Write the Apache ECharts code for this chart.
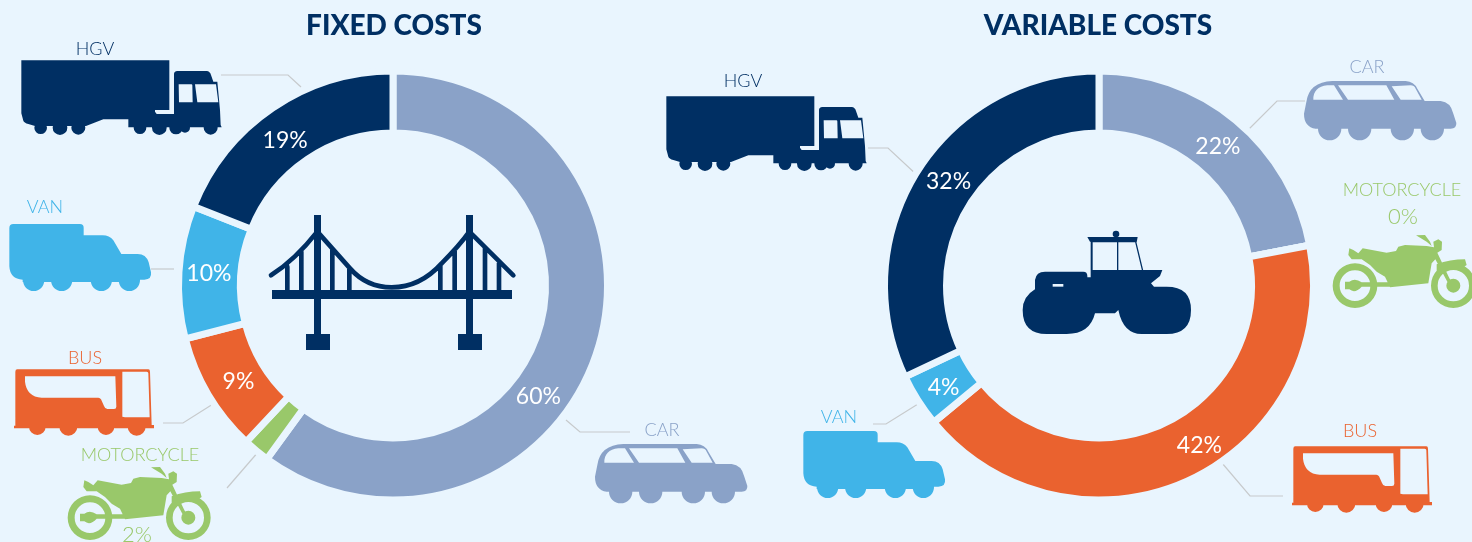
<!DOCTYPE html>
<html>
<head>
<meta charset="utf-8">
<style>html,body{margin:0;padding:0;background:#E9F5FE}#c{width:1472px;height:542px}</style>
<script src="https://cdn.jsdelivr.net/npm/echarts@6/dist/echarts.min.js"></script>
</head>
<body>
<div id="c"></div>
<script>
// ---- data ----
const fixedCategories = ['CAR', 'MOTORCYCLE', 'BUS', 'VAN', 'HGV'];
const fixedValues = [60, 2, 9, 10, 19];
const variableCategories = ['CAR', 'MOTORCYCLE', 'BUS', 'VAN', 'HGV'];
const variableValues = [22, 0, 42, 4, 32];
const chartTitles = ['FIXED COSTS', 'VARIABLE COSTS'];

// ---- styling ----
const BG = '#E9F5FE';
const colors = { CAR: '#8AA2C8', MOTORCYCLE: '#99C86A', BUS: '#EA622F', VAN: '#40B4E8', HGV: '#002F63' };
const LEADER = '#C7CACC';
const FONT = 'Lato, "Open Sans", sans-serif';
const fixedLabelShift = { CAR: [-32, 53], MOTORCYCLE: [0, 0], BUS: [6, 1], VAN: [2, 0], HGV: [-3, 9] };
const variableLabelShift = { CAR: [0, 5], MOTORCYCLE: [0, 0], BUS: [21, -9], VAN: [2, 2], HGV: [7, -4] };

function pie(center, cats, vals, shift) {
  return {
    type: 'pie', center: center, radius: [152.5, 214.5], startAngle: 90, clockwise: true,
    avoidLabelOverlap: false, animation: false, silent: true,
    itemStyle: { borderColor: BG, borderWidth: 7 },
    label: { position: 'inside', formatter: '{c}%', color: '#fff', fontFamily: FONT, fontSize: 23, fontWeight: 400 },
    labelLine: { show: false },
    labelLayout: function (p) { const s = shift[cats[p.dataIndex]]; return { dx: s[0], dy: s[1] }; },
    data: cats.map(function (c, i) {
      return {
        name: c, value: vals[i],
        itemStyle: { color: colors[c] },
        label: { show: c !== 'MOTORCYCLE' }
      };
    })
  };
}

// ---- pictogram helpers (icon art, drawn in 3x zoomed units) ----
let shapeCount = 0;
function shapeType(d) {
  const name = 'iconShape' + (shapeCount++);
  echarts.graphic.registerShape(name, echarts.graphic.extendPath(d, {}));
  return name;
}
function circ(cx, cy, r, rev) {
  const s = rev ? 0 : 1;
  return 'M' + (cx - r) + ' ' + cy + 'A' + r + ' ' + r + ' 0 1 ' + s + ' ' + (cx + r) + ' ' + cy +
         'A' + r + ' ' + r + ' 0 1 ' + s + ' ' + (cx - r) + ' ' + cy + 'Z';
}
function icon(x, y, body, color, holes) {
  const children = [{ type: shapeType(body), style: { fill: color }, silent: true }];
  if (holes) children.push({ type: shapeType(holes), style: { fill: BG }, silent: true });
  return { type: 'group', x: x, y: y, scaleX: 1 / 3, scaleY: 1 / 3, silent: true, children: children };
}
const truckBody = 'M64 91H508V240H465V247H415L385 268H310L258 288H105L85 282Q72 278 70 272L64 250Z' +
  'M385 268L415 245H465L470 252H522V132Q522 124 532 123H620Q630 124 633 135L640 155H652L660 240L662 285L665 292H385Z' +
  circ(122, 293, 19) + circ(180, 293, 22) + circ(235, 293, 21) + circ(420, 293, 19) + circ(478, 293, 22) + circ(528, 293, 20) + circ(555, 293, 15) + circ(632, 293, 21);
const truckHoles = 'M536 163H574Q577 163 577 166L578 217H537ZM585 163H648L655 217H592Z';
const vanBody = 'M52 93H252Q263 93 263 104V127H320Q340 127 352 142L376 183H425Q450 183 458 208L465 238Q468 260 445 260H430V267H80V260Q42 258 40 220V105Q40 93 52 93Z' +
  circ(113, 262, 32) + circ(197, 262, 32) + circ(316, 262, 32) + circ(400, 262, 32);
const busBody = 'M46 95Q46 88 52 88H445Q450 88 450 95L455 255H462V265H42V257H46Z' +
  circ(112, 260, 25) + circ(205, 260, 27) + circ(318, 260, 25) + circ(410, 260, 27);
const busHoles = 'M75 109H346L349 200Q349 207 342 207H322Q315 207 312 198L303 178Q300 173 295 173H125Q80 170 75 125Z' +
  'M367 95H440Q445 95 445 100L449 232H375L367 230Z';
const carBody = 'M15 200L22 165Q30 105 100 102H320Q345 104 355 125L377 162H425Q455 165 463 200L472 228Q473 245 455 245H50Q15 240 15 200Z' +
  circ(92, 245, 35) + circ(182, 245, 35) + circ(310, 245, 35) + circ(400, 245, 35);
const carHoles = 'M43 158Q42 120 85 115H105L132 158ZM117 115H262L286 158H147ZM278 118L335 115Q345 115 350 125L368 158H305Z';
const motoBody = 'M178 235L190 240L205 250L218 235L290 248L318 243L325 230L345 225L410 228L432 232L430 215L445 208L456 215L455 240L442 248L476 320L490 347L480 350L436 268L425 280L415 340L300 352L285 320L260 305L240 285L215 268L185 268L175 255Z' +
  'M378 196L405 195L420 215L425 228L410 215Z' +
  'M440 283Q480 268 525 268L530 285Q515 298 505 290Q470 285 440 310Z' +
  circ(195, 347, 67) + circ(195, 347, 46, true) + circ(490, 347, 67) + circ(490, 347, 47, true) + circ(490, 347, 21) +
  'M165 335H178Q195 322 215 337H300V350H215Q195 372 178 358H165Z';
const bridgeSolid = 'M36 270H756V297H36ZM162 45H183V402H162ZM618 45H639V402H618ZM138 402H210V450H138ZM594 402H666V450H594Z';
const bridgeLines = 'M33 226Q105 180 172 95L270 205Q320 262 395 262Q480 262 545 190Q600 135 628 95L760 226' +
  'M82 200V270M124 155V270M217 150V270M268 205V270M541 195V270M584 150V270M675 145V270M717 190V270';
const rollerBody = 'M105 180Q108 155 135 155H250Q262 155 262 168V172H272V150H487L480 168L453 190L462 200H500Q573 200 573 270Q573 342 500 342H425Q370 342 355 270L345 280H285Q270 342 200 342H140Q68 342 68 270Q68 230 105 208Z' +
  'M262 51H413L410 67H277L270 65Z' + circ(348, 42, 10) +
  'M272 65H278V152H272ZM351 65H355V152H351ZM405 65H409L430 152H426Z';
const rollerHoles = 'M158 192H190V200H158Z';

function leader(pts) {
  return { type: 'polyline', shape: { points: pts }, style: { stroke: LEADER, lineWidth: 1.2, fill: null }, silent: true };
}
function tag(t, x, y, color, size) {
  return { type: 'text', x: x, y: y, silent: true,
    style: { text: t, fill: color, font: '300 ' + (size || 18) + 'px ' + FONT, textAlign: 'center', textVerticalAlign: 'middle' } };
}
const fixedMoto = fixedValues[fixedCategories.indexOf('MOTORCYCLE')] + '%';
const variableMoto = variableValues[variableCategories.indexOf('MOTORCYCLE')] + '%';

const graphics = [
  // leader lines
  leader([[221, 75], [288, 75], [301, 87]]),
  leader([[151, 269], [174, 269]]),
  leader([[163, 423], [183, 423], [213, 404]]),
  leader([[227, 488], [259, 451]]),
  leader([[566, 420], [580, 432], [630, 432]]),
  leader([[868, 148], [888, 148], [918, 176]]),
  leader([[1305, 101], [1277, 101], [1243, 135]]),
  leader([[873, 424], [886, 424], [918, 404]]),
  leader([[1222, 463], [1250, 496], [1283, 496]]),
  // icons, left
  icon(0, 30, truckBody, colors.HGV, truckHoles),
  icon(-4, 193, vanBody, colors.VAN),
  icon(0, 340, busBody, colors.BUS, busHoles),
  icon(25, 402, motoBody, colors.MOTORCYCLE),
  icon(590, 410, carBody, colors.CAR, carHoles),
  // icons, right
  icon(645, 66, truckBody, colors.HGV, truckHoles),
  icon(790, 400, vanBody, colors.VAN),
  icon(1278, 417, busBody, colors.BUS, busHoles),
  icon(1290, 170, motoBody, colors.MOTORCYCLE),
  icon(1299, 47, carBody, colors.CAR, carHoles),
  // centre pictograms
  icon(260, 200, bridgeSolid, colors.HGV),
  { type: 'group', x: 260, y: 200, scaleX: 1 / 3, scaleY: 1 / 3, silent: true, children: [
    { type: shapeType(bridgeLines), silent: true,
      style: { fill: null, stroke: colors.HGV, lineWidth: 14, lineCap: 'round', lineJoin: 'round' } }
  ] },
  icon(1000, 220, rollerBody, colors.HGV, rollerHoles),
  // category tags
  tag('HGV', 95, 49, colors.HGV),
  tag('VAN', 45, 207, colors.VAN),
  tag('BUS', 85, 358, colors.BUS),
  tag('MOTORCYCLE', 140, 455, colors.MOTORCYCLE),
  tag(fixedMoto, 137, 535, colors.MOTORCYCLE, 22),
  tag('CAR', 662, 430, colors.CAR),
  tag('HGV', 743, 81, colors.HGV),
  tag('CAR', 1367, 67, colors.CAR),
  tag('MOTORCYCLE', 1402, 190, colors.MOTORCYCLE),
  tag(variableMoto, 1403, 217, colors.MOTORCYCLE, 22),
  tag('VAN', 839, 417, colors.VAN),
  tag('BUS', 1360, 431, colors.BUS)
];

const chart = echarts.init(document.getElementById('c'), null, { renderer: 'canvas' });
chart.setOption({
  backgroundColor: BG,
  animation: false,
  title: [
    { text: chartTitles[0], left: 394, top: 12, padding: 0, textAlign: 'center',
      textStyle: { color: colors.HGV, fontFamily: FONT, fontWeight: 900, fontSize: 28 } },
    { text: chartTitles[1], left: 1098, top: 12, padding: 0, textAlign: 'center',
      textStyle: { color: colors.HGV, fontFamily: FONT, fontWeight: 900, fontSize: 28 } }
  ],
  series: [
    pie([393, 285.5], fixedCategories, fixedValues, fixedLabelShift),
    pie([1099, 285.5], variableCategories, variableValues, variableLabelShift)
  ],
  graphic: { elements: graphics }
});
</script>
</body>
</html>
